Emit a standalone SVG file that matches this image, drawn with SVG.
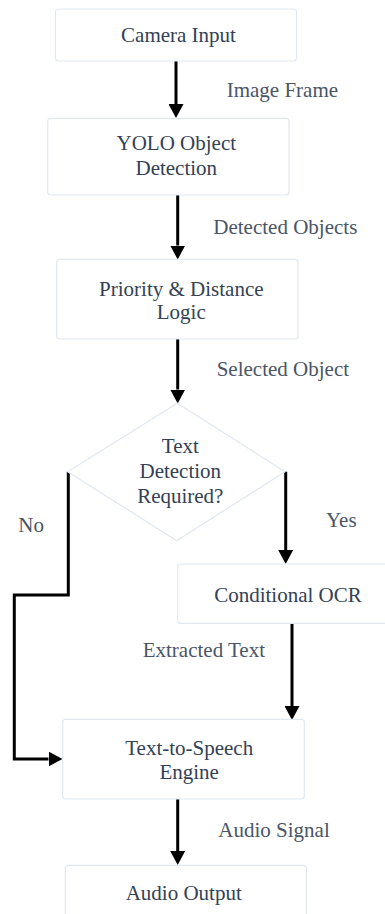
<svg xmlns="http://www.w3.org/2000/svg" width="385" height="914" viewBox="0 0 385 914">
  <style>
    .node { fill: #ffffff; stroke: #e2e8f0; stroke-width: 1.2; }
    .ntext { font-size: 21px; fill: #334155; text-anchor: middle; }
    .ltext { font-size: 21px; fill: #4a5568; }
    .edge { fill: none; stroke: #000000; stroke-width: 3; }
  </style>
  <defs>
    <marker id="arrow" markerUnits="userSpaceOnUse" markerWidth="15" markerHeight="15" refX="0" refY="7.5" orient="auto">
      <path d="M0,0 L14,7.5 L0,15 z" fill="#000000"/>
    </marker>
  </defs>
  <rect width="385" height="914" fill="#ffffff"/>

  <g font-family="Liberation Serif, DejaVu Serif, serif">
  <g id="connectors">
    <path class="edge" d="M176,61 V104" marker-end="url(#arrow)"/>
    <path class="edge" d="M177.7,195 V245.5" marker-end="url(#arrow)"/>
    <path class="edge" d="M177.7,339 V389.5" marker-end="url(#arrow)"/>
    <path class="edge" d="M68.3,471.7 V595 H14.3 V759 H48.5" marker-end="url(#arrow)"/>
    <path class="edge" d="M285.7,471.7 V550" marker-end="url(#arrow)"/>
    <path class="edge" d="M292,623.3 V706" marker-end="url(#arrow)"/>
    <path class="edge" d="M177.7,799 V851" marker-end="url(#arrow)"/>
    <text class="ltext" x="226.7" y="96.7">Image Frame</text>
    <text class="ltext" x="213.3" y="234.3">Detected Objects</text>
    <text class="ltext" x="216.7" y="375.7">Selected Object</text>
    <text class="ltext" x="18.3" y="531.7">No</text>
    <text class="ltext" x="326" y="526.7">Yes</text>
    <text class="ltext" x="142.7" y="657.3">Extracted Text</text>
    <text class="ltext" x="218.3" y="836.7">Audio Signal</text>
  </g>

  <g id="camera-input">
    <rect class="node" x="55.5" y="9" width="241" height="52" rx="3"/>
    <text class="ntext" x="178.5" y="42">Camera Input</text>
  </g>

  <g id="yolo-detection">
    <rect class="node" x="47.7" y="118.3" width="241.3" height="76.7" rx="3"/>
    <text class="ntext" x="176.3" y="150">YOLO Object</text>
    <text class="ntext" x="176.3" y="175">Detection</text>
  </g>

  <g id="priority-logic">
    <rect class="node" x="56.7" y="259.3" width="241.3" height="79.7" rx="3"/>
    <text class="ntext" x="181.3" y="295.7">Priority &amp; Distance</text>
    <text class="ntext" x="181.3" y="319.3">Logic</text>
  </g>

  <g id="text-decision">
    <polygon class="node" points="177.3,403.3 285,471.7 176.7,540.7 67.7,471.7"/>
    <text class="ntext" x="180.3" y="453.3">Text</text>
    <text class="ntext" x="180.3" y="478.3">Detection</text>
    <text class="ntext" x="180.3" y="502.7">Required?</text>
  </g>

  <g id="conditional-ocr">
    <rect class="node" x="177.7" y="564" width="220" height="59.3" rx="3"/>
    <text class="ntext" x="288" y="602.3">Conditional OCR</text>
  </g>

  <g id="tts-engine">
    <rect class="node" x="62.7" y="719.3" width="241.6" height="79.7" rx="3"/>
    <text class="ntext" x="189.2" y="755">Text-to-Speech</text>
    <text class="ntext" x="189.2" y="779.3">Engine</text>
  </g>

  <g id="audio-output">
    <rect class="node" x="65.3" y="865.3" width="241" height="70" rx="3"/>
    <text class="ntext" x="183.7" y="900">Audio Output</text>
  </g>
  </g>
</svg>
